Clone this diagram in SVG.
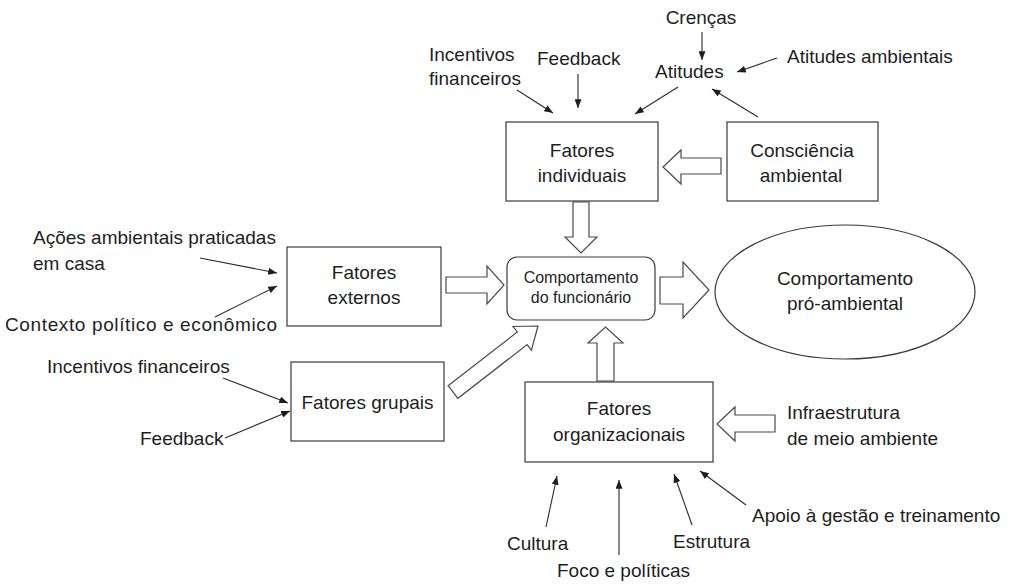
<svg xmlns="http://www.w3.org/2000/svg" width="1014" height="584" viewBox="0 0 1014 584">
<style>
  text { font-family: "Liberation Sans", Arial, sans-serif; font-size: 19px; fill: #1e1e1e; }
  .c { text-anchor: middle; }
  .small { font-size: 16px; }
  .box { fill: #ffffff; stroke: #3a3a3a; stroke-width: 1.2; }
  .hollow { fill: #ffffff; stroke: #4a4a4a; stroke-width: 1.2; stroke-linejoin: miter; }
  .ln { fill: none; stroke: #2a2a2a; stroke-width: 1.1; marker-end: url(#ah); }
</style>
<defs>
  <marker id="ah" viewBox="0 0 10 8" refX="10" refY="4" markerWidth="9" markerHeight="7" markerUnits="userSpaceOnUse" orient="auto">
    <path d="M0,0 L10,4 L0,8 Z" fill="#1e1e1e"/>
  </marker>
</defs>
<rect width="1014" height="584" fill="#ffffff"/>

<g id="connectors">
  <!-- hollow block arrows -->
  <polygon class="hollow" points="721,158 681,158 681,150 663,167 681,184 681,174 721,174"/>
  <polygon class="hollow" points="573,202 573,237 565,237 581,253 597,237 589,237 589,202"/>
  <polygon class="hollow" points="446,277 487,277 487,266 504,285 487,304 487,293 446,293"/>
  <polygon class="hollow" points="660,277 683,277 683,262 709,290 683,318 683,304 660,304"/>
  <polygon class="hollow" points="597,381 597,343 588,343 605.5,327 623,343 614,343 614,381"/>
  <polygon class="hollow" points="775,415 735,415 735,407 717,424 735,441 735,432 775,432"/>
  <polygon class="hollow" points="448.1,385.7 517.3,332 513,326.5 538,326 531.4,350.2 527.1,344.6 457.9,398.3"/>
  <!-- line arrows -->
  <line class="ln" x1="517" y1="90" x2="553" y2="113"/>
  <line class="ln" x1="578" y1="74" x2="578" y2="108"/>
  <line class="ln" x1="678" y1="87" x2="635" y2="114"/>
  <line class="ln" x1="702" y1="32" x2="702" y2="60"/>
  <line class="ln" x1="777" y1="58" x2="737" y2="72"/>
  <line class="ln" x1="758" y1="117" x2="712" y2="89"/>
  <line class="ln" x1="200" y1="258" x2="277" y2="273"/>
  <line class="ln" x1="215" y1="317" x2="277" y2="286"/>
  <line class="ln" x1="223" y1="378" x2="288" y2="403"/>
  <line class="ln" x1="225" y1="438" x2="290" y2="411"/>
  <line class="ln" x1="546" y1="527" x2="557" y2="476"/>
  <line class="ln" x1="619" y1="555" x2="619" y2="480"/>
  <line class="ln" x1="692" y1="525" x2="674" y2="474"/>
  <line class="ln" x1="746" y1="505" x2="700" y2="471"/>
</g>

<g id="fatores-individuais">
  <rect class="box" x="506" y="122" width="152" height="79"/>
  <text class="c" x="582" y="157">Fatores</text>
  <text class="c" x="582" y="182">individuais</text>
</g>
<g id="consciencia-ambiental">
  <rect class="box" x="727" y="122" width="151" height="79"/>
  <text class="c" x="802" y="157">Consciência</text>
  <text class="c" x="801" y="182">ambiental</text>
</g>
<g id="fatores-externos">
  <rect class="box" x="287" y="247" width="154" height="79"/>
  <text class="c" x="364" y="279">Fatores</text>
  <text class="c" x="364" y="304">externos</text>
</g>
<g id="fatores-grupais">
  <rect class="box" x="291" y="362" width="153" height="79"/>
  <text class="c" x="367.5" y="409">Fatores grupais</text>
</g>
<g id="comportamento-funcionario">
  <rect class="box" x="507" y="257" width="148" height="63" rx="10" ry="10"/>
  <text class="c small" x="581" y="283">Comportamento</text>
  <text class="c small" x="581" y="303">do funcionário</text>
</g>
<g id="comportamento-pro-ambiental">
  <ellipse class="box" cx="845" cy="292" rx="130" ry="67"/>
  <text class="c" x="845" y="285">Comportamento</text>
  <text class="c" x="845" y="310">pró-ambiental</text>
</g>
<g id="fatores-organizacionais">
  <rect class="box" x="525" y="382" width="188" height="80"/>
  <text class="c" x="619" y="415">Fatores</text>
  <text class="c" x="619" y="441">organizacionais</text>
</g>

<g id="labels">
  <text x="429" y="61">Incentivos</text>
  <text x="429" y="85">financeiros</text>
  <text x="537" y="65">Feedback</text>
  <text class="c" x="701" y="24">Crenças</text>
  <text x="655" y="78">Atitudes</text>
  <text x="787" y="63">Atitudes ambientais</text>
  <text x="33" y="244">Ações ambientais praticadas</text>
  <text x="33" y="270">em casa</text>
  <text x="5" y="331" textLength="272" lengthAdjust="spacing">Contexto político e econômico</text>
  <text x="47" y="373">Incentivos financeiros</text>
  <text x="140" y="445">Feedback</text>
  <text x="787" y="419">Infraestrutura</text>
  <text x="787" y="445">de meio ambiente</text>
  <text x="507" y="550">Cultura</text>
  <text x="557" y="577">Foco e políticas</text>
  <text x="673" y="548">Estrutura</text>
  <text x="752" y="522">Apoio à gestão e treinamento</text>
</g>
</svg>
